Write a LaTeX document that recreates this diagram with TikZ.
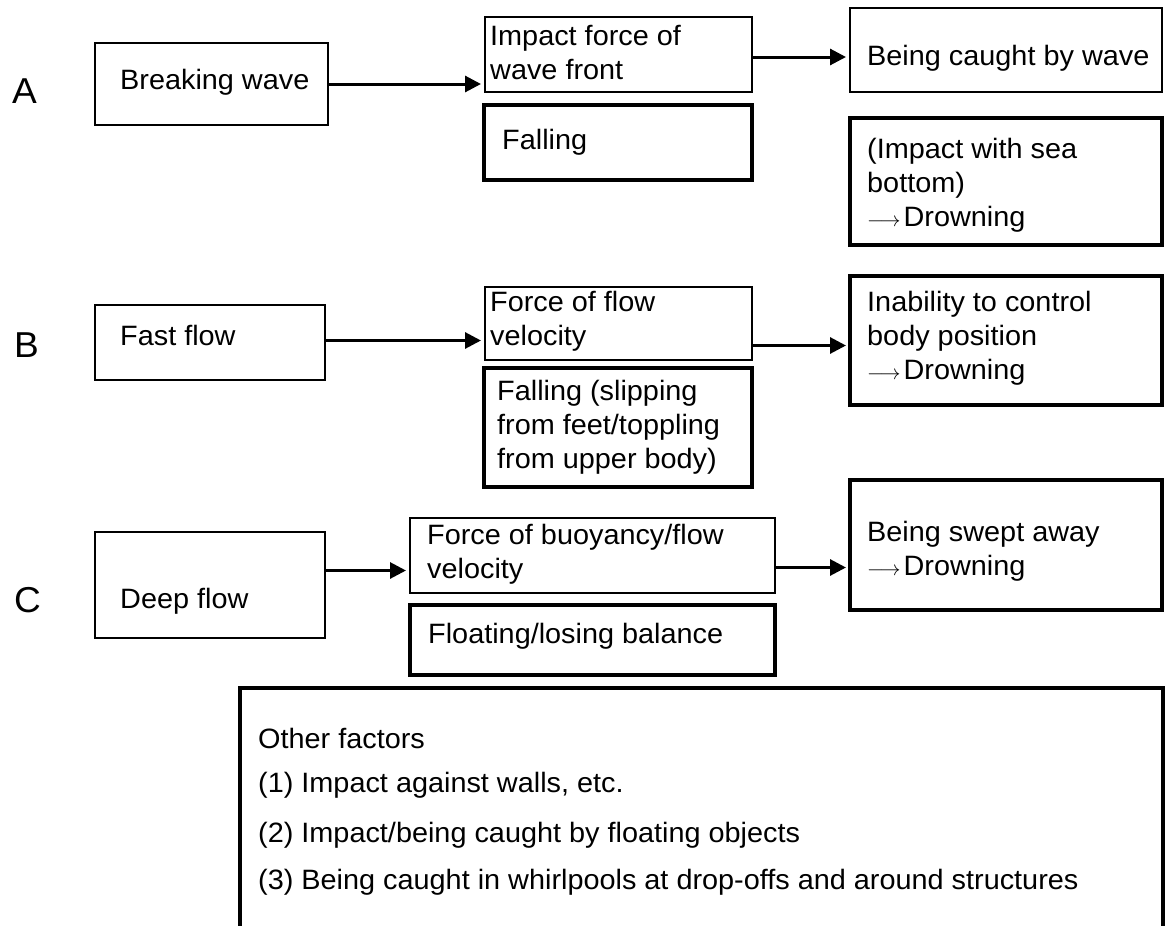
\documentclass[tikz,border=0pt]{standalone}
\usepackage{fontspec}
\setmainfont{Liberation Sans}[FakeStretch=1.03]
\usetikzlibrary{arrows.meta}
\newcommand\bodyfont{\fontsize{28}{34}\selectfont}
\newcommand\labelfont{\fontsize{36}{40}\selectfont}
\newcommand\drown{{\fontsize{20}{20}\selectfont$\longrightarrow$}\kern3pt Drowning}
\tikzset{
  box/.style={draw, line width=2pt, rectangle, inner sep=0pt, outer sep=0pt},
  thickbox/.style={box, line width=4pt},
  txt/.style={anchor=west, align=left, inner sep=0pt, font=\bodyfont},
  lbl/.style={anchor=west, inner sep=0pt, font=\labelfont},
  conn/.style={line width=3pt, shorten >=4pt, -{Triangle[length=16pt,width=16pt]}}
}
% style, name, x1, y1, x2, y2, inset, dy, text
\newcommand\bx[9][box]{%
  \pgfmathsetmacro\mybw{#5-#3}\pgfmathsetmacro\mybh{#6-#4}%
  \node[#1, minimum width=\mybw pt, minimum height=\mybh pt, anchor=north west] (#2) at (#3,#4) {};
  \node[txt] (#2-t) at ([xshift=#7pt, yshift=-#8pt]#2.west) {#9};
}
\begin{document}
\begin{tikzpicture}[x=1pt,y=-1pt]
\useasboundingbox (0,0) rectangle (1165,926);
\clip (0,0) rectangle (1165,926);
% row labels
\node[lbl] (la) at (12,91) {A};
\node[lbl] (lb) at (14,345) {B};
\node[lbl] (lc) at (14,600) {C};
% row A
\bx{bw}{95}{43}{328}{125}{25}{-2}{Breaking wave}
\bx{if}{485}{17}{752}{92}{5}{-2}{Impact force of\\wave front}
\bx[thickbox]{fa}{484}{105}{752}{180}{18}{0}{Falling}
\bx{bc}{850}{8}{1162}{92}{17}{8}{Being caught by wave}
\bx[thickbox]{is}{850}{118}{1162}{245}{17}{4}{(Impact with sea\\bottom)\\\drown}
% row B
\bx{ff}{95}{305}{325}{380}{25}{-7}{Fast flow}
\bx{fv}{485}{287}{752}{360}{5}{-2}{Force of flow\\velocity}
\bx[thickbox]{fs}{484}{368}{752}{487}{13}{0}{Falling (slipping\\from feet/toppling\\from upper body)}
\bx[thickbox]{ib}{850}{276}{1162}{405}{17}{-2}{Inability to control\\body position\\\drown}
% row C
\bx{df}{95}{532}{325}{638}{25}{16}{Deep flow}
\bx{fb}{410}{518}{775}{593}{17}{-1}{Force of buoyancy/flow\\velocity}
\bx[thickbox]{fl}{410}{605}{775}{675}{18}{-4}{Floating/losing balance}
\bx[thickbox]{sw}{850}{480}{1162}{610}{17}{6}{Being swept away\\\drown}
% other factors
\node[thickbox, minimum width=923pt, minimum height=260pt, anchor=north west] (of) at (240,688) {};
\node[txt] (of1) at (258,738) {Other factors};
\node[txt] (of2) at (258,785) {(1) Impact against walls, etc.};
\node[txt] (of3) at (258,835) {(2) Impact/being caught by floating objects};
\node[txt] (of4) at (258,882) {(3) Being caught in whirlpools at drop-offs and around structures};
% connectors
\draw[conn] (bw.east) -- (bw.east -| if.west);
\draw[conn] ([yshift=-2.5pt]if.east) -- ([yshift=-2.5pt]if.east -| bc.west);
\draw[conn] ([yshift=2pt]ff.east) -- ([yshift=2pt]ff.east -| fv.west);
\draw[conn] ([yshift=-5pt]ib.west -| fv.east) -- ([yshift=-5pt]ib.west);
\draw[conn] ([yshift=-15pt]fb.west -| df.east) -- ([yshift=-15pt]fb.west);
\draw[conn] ([yshift=-12pt]fb.east) -- ([yshift=-12pt]fb.east -| sw.west);
\end{tikzpicture}
\end{document}
